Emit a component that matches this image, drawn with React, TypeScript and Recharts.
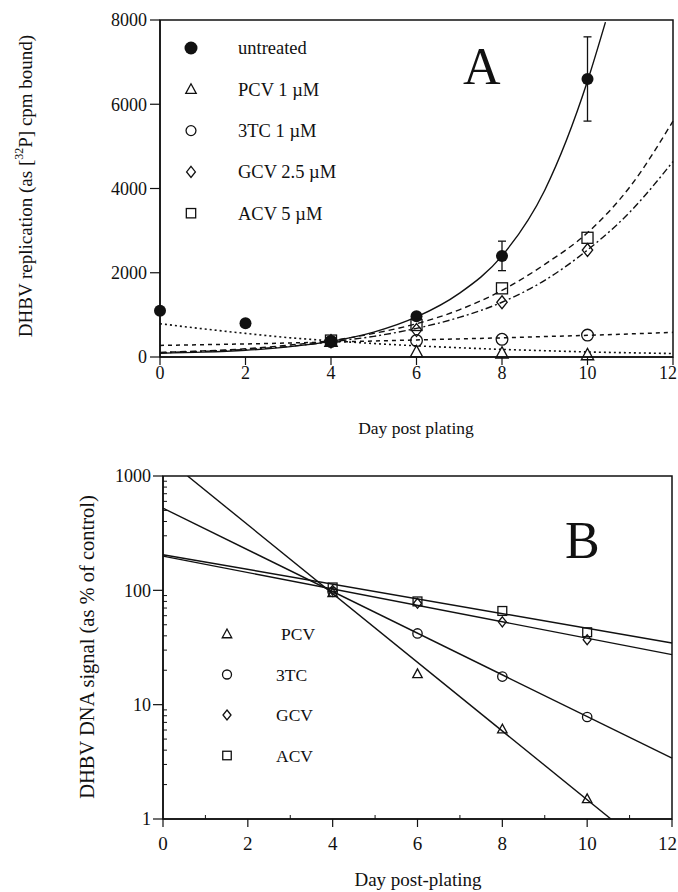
import React from 'react';
import { ComposedChart, Line, Scatter, XAxis, YAxis, ReferenceArea, ErrorBar } from 'recharts';

const SERIF = "'Liberation Serif', 'Times New Roman', serif";
const INK = '#111';

// ---- Panel A: DHBV replication, cpm bound ----
const dayTicksA = [0, 2, 4, 6, 8, 10, 12];
const cpmTicks = [0, 2000, 4000, 6000, 8000];

const untreatedDays = [0, 2, 4, 6, 8, 10];
const untreatedCpm = [1100, 800, 370, 970, 2400, 6600];
const untreatedSd = [0, 0, 0, 0, 350, 1000];

const treatedDays = [4, 6, 8, 10];
const pcvCpm = [370, 120, 90, 50];
const tcCpm = [370, 390, 420, 520];
const gcvCpm = [370, 640, 1300, 2540];
const acvCpm = [390, 760, 1630, 2830];

// fitted curves
const fitDays = [0, 1, 2, 3, 4, 5, 6, 7, 8, 9, 10, 11, 12];
const untreatedFitDays = [0, 1, 2, 3, 4, 5, 6, 7, 8, 9, 10, 10.42];
const untreatedFit = [90, 115, 160, 240, 370, 590, 950, 1510, 2400, 3960, 6550, 7950];
const pcvFit = [790, 670, 560, 460, 385, 320, 265, 220, 180, 150, 120, 100, 82];
const tcFit = [275, 292, 310, 332, 355, 380, 405, 430, 455, 485, 515, 548, 585];
const gcvFit = [100, 135, 180, 250, 360, 490, 680, 940, 1300, 1820, 2540, 3450, 4640];
const acvFit = [110, 145, 195, 280, 390, 560, 790, 1120, 1580, 2200, 2950, 4050, 5600];

// ---- Panel B: DNA signal, % of control (log) ----
const dayTicksB = [0, 1, 2, 3, 4, 5, 6, 7, 8, 9, 10, 11, 12];
const pctMajor = [1, 10, 100, 1000];
const pctTicks = [1, 2, 3, 4, 5, 6, 7, 8, 9, 10, 20, 30, 40, 50, 60, 70, 80, 90, 100, 200, 300, 400, 500, 600, 700, 800, 900, 1000];

const pcvPct = [95, 18.6, 6.1, 1.5];
const tcPct = [97, 42, 17.6, 7.8];
const gcvPct = [100, 77, 53, 37];
const acvPct = [106, 80, 66, 43];

const pcvLineDays = [0.58, 10.56];
const pcvLine = [1000, 1];
const lineEndDays = [0, 12];
const tcLine = [523, 3.4];
const gcvLine = [199, 27.4];
const acvLine = [205, 34.6];

const pts = (xs: number[], ys: number[], sd?: number[]) =>
  xs.map((x, i) => (sd ? { x, y: ys[i], sd: sd[i] } : { x, y: ys[i] }));

function Marker({ cx, cy, kind, s }: { cx: number; cy: number; kind: string; s: number }) {
  if (cx == null || cy == null) return null;
  const common = { fill: 'none', stroke: INK, strokeWidth: 1.3 };
  switch (kind) {
    case 'disc':
      return <circle cx={cx} cy={cy} r={s} fill={INK} />;
    case 'circle':
      return <circle cx={cx} cy={cy} r={s * 0.9} {...common} />;
    case 'triangle':
      return <polygon points={`${cx},${cy - s} ${cx - s * 0.95},${cy + s * 0.75} ${cx + s * 0.95},${cy + s * 0.75}`} {...common} />;
    case 'diamond':
      return <polygon points={`${cx},${cy - s} ${cx + s * 0.8},${cy} ${cx},${cy + s} ${cx - s * 0.8},${cy}`} {...common} />;
    case 'square':
      return <rect x={cx - s * 0.85} y={cy - s * 0.85} width={s * 1.7} height={s * 1.7} {...common} />;
    default:
      return null;
  }
}
const shapeOf = (kind: string, s: number) => (p: any) => <Marker cx={p.cx} cy={p.cy} kind={kind} s={s} />;

// ticks drawn by hand so tick length/direction can follow the original
const YTickA = (p: any) => (
  <g>
    <line x1={p.x - 10} x2={p.x} y1={p.y} y2={p.y} stroke={INK} strokeWidth={1.2} />
    <text x={p.x - 13} y={p.y} dy="0.35em" textAnchor="end" fontFamily={SERIF} fontSize={18} fill={INK}>
      {p.payload.value}
    </text>
  </g>
);
const XTickA = (p: any) => (
  <g>
    <line x1={p.x} x2={p.x} y1={p.y} y2={p.y + 8} stroke={INK} strokeWidth={1.2} />
    <text x={p.x} y={p.y + 22} textAnchor={p.payload.value === 12 ? 'end' : 'middle'} dx={p.payload.value === 12 ? 4 : 0} fontFamily={SERIF} fontSize={18} fill={INK}>
      {p.payload.value}
    </text>
  </g>
);
const YTickB = (p: any) => {
  const major = pctMajor.includes(p.payload.value);
  return (
    <g>
      {major ? (
        <line x1={p.x - 10} x2={p.x} y1={p.y} y2={p.y} stroke={INK} strokeWidth={1.2} />
      ) : (
        <line x1={p.x} x2={p.x + 4} y1={p.y} y2={p.y} stroke={INK} strokeWidth={1} />
      )}
      {major && (
        <text x={p.x - 12} y={p.y} dy="0.35em" textAnchor="end" fontFamily={SERIF} fontSize={18} fill={INK}>
          {p.payload.value}
        </text>
      )}
    </g>
  );
};
const XTickB = (p: any) => {
  const major = p.payload.value % 2 === 0;
  return (
    <g>
      {major ? (
        <line x1={p.x} x2={p.x} y1={p.y} y2={p.y + 8} stroke={INK} strokeWidth={1.2} />
      ) : (
        <line x1={p.x} x2={p.x} y1={p.y} y2={p.y - 4} stroke={INK} strokeWidth={1} />
      )}
      {major && (
        <text x={p.x} y={p.y + 31} textAnchor={p.payload.value === 12 ? 'end' : 'middle'} dx={p.payload.value === 12 ? 5 : 0} fontFamily={SERIF} fontSize={19} fill={INK}>
          {p.payload.value}
        </text>
      )}
    </g>
  );
};

const YTitleA = () => (
  <text x={25} y={186} transform="rotate(-90 25 186)" textAnchor="middle" dominantBaseline="central" fontFamily={SERIF} fontSize={19} fill={INK}>
    DHBV replication (as [<tspan dy={-6} fontSize={12}>32</tspan>
    <tspan dy={6}>P] cpm bound)</tspan>
  </text>
);
const XTitleA = () => (
  <text x={416} y={434} textAnchor="middle" fontFamily={SERIF} fontSize={17.5} fill={INK}>
    Day post plating
  </text>
);
const YTitleB = () => (
  <text x={87} y={197} transform="rotate(-90 87 197)" textAnchor="middle" dominantBaseline="central" fontFamily={SERIF} fontSize={20.5} fill={INK}>
    DHBV DNA signal (as % of control)
  </text>
);
const XTitleB = () => (
  <text x={418} y={436} textAnchor="middle" fontFamily={SERIF} fontSize={19} fill={INK}>
    Day post-plating
  </text>
);

const legendA = [
  { kind: 'disc', label: 'untreated' },
  { kind: 'triangle', label: 'PCV 1 µM' },
  { kind: 'circle', label: '3TC 1 µM' },
  { kind: 'diamond', label: 'GCV 2.5 µM' },
  { kind: 'square', label: 'ACV 5 µM' },
];
const legendB = [
  { kind: 'triangle', label: 'PCV' },
  { kind: 'circle', label: '3TC' },
  { kind: 'diamond', label: 'GCV' },
  { kind: 'square', label: 'ACV' },
];

function PanelA() {
  return (
    <ComposedChart width={678} height={440} margin={{ top: 20, right: 5, bottom: 0, left: 0 }}>
      <XAxis
        type="number"
        dataKey="x"
        domain={[0, 12]}
        ticks={dayTicksA}
        interval={0}
        tickSize={0}
        tickMargin={0}
        tick={XTickA}
        height={83}
        axisLine={{ stroke: INK, strokeWidth: 1.5 }}
        label={<XTitleA />}
      />
      <YAxis
        type="number"
        dataKey="y"
        domain={[0, 8000]}
        ticks={cpmTicks}
        interval={0}
        tickSize={0}
        tickMargin={0}
        tick={YTickA}
        width={160}
        axisLine={{ stroke: INK, strokeWidth: 1.5 }}
        label={<YTitleA />}
      />
      <ReferenceArea x1={0} x2={12} y1={0} y2={8000} fill="none" stroke={INK} strokeWidth={1.5} />
      <Line data={pts(untreatedFitDays, untreatedFit)} dataKey="y" type="monotone" stroke={INK} strokeWidth={1.4} dot={false} isAnimationActive={false} />
      <Line data={pts(fitDays, acvFit)} dataKey="y" type="monotone" stroke={INK} strokeWidth={1.4} strokeDasharray="6 4" dot={false} isAnimationActive={false} />
      <Line data={pts(fitDays, gcvFit)} dataKey="y" type="monotone" stroke={INK} strokeWidth={1.4} strokeDasharray="7 3 2 3" dot={false} isAnimationActive={false} />
      <Line data={pts(fitDays, tcFit)} dataKey="y" type="monotone" stroke={INK} strokeWidth={1.5} strokeDasharray="4 4" dot={false} isAnimationActive={false} />
      <Line data={pts(fitDays, pcvFit)} dataKey="y" type="monotone" stroke={INK} strokeWidth={1.6} strokeDasharray="2 3" dot={false} isAnimationActive={false} />
      <Scatter data={pts(untreatedDays, untreatedCpm, untreatedSd)} shape={shapeOf('disc', 6)} isAnimationActive={false}>
        <ErrorBar dataKey="sd" direction="y" width={4} stroke={INK} strokeWidth={1.3} />
      </Scatter>
      <Scatter data={pts(treatedDays, pcvCpm)} shape={shapeOf('triangle', 6.5)} isAnimationActive={false} />
      <Scatter data={pts(treatedDays, tcCpm)} shape={shapeOf('circle', 6.5)} isAnimationActive={false} />
      <Scatter data={pts(treatedDays, gcvCpm)} shape={shapeOf('diamond', 6.5)} isAnimationActive={false} />
      <Scatter data={pts(treatedDays, acvCpm)} shape={shapeOf('square', 6.5)} isAnimationActive={false} />
    </ComposedChart>
  );
}

function PanelB() {
  return (
    <ComposedChart width={678} height={442} margin={{ top: 26, right: 6, bottom: 0, left: 0 }}>
      <XAxis
        type="number"
        dataKey="x"
        domain={[0, 12]}
        ticks={dayTicksB}
        interval={0}
        tickSize={0}
        tickMargin={0}
        tick={XTickB}
        height={73}
        axisLine={{ stroke: INK, strokeWidth: 1.5 }}
        label={<XTitleB />}
      />
      <YAxis
        type="number"
        dataKey="y"
        scale="log"
        domain={[1, 1000]}
        allowDataOverflow
        ticks={pctTicks}
        interval={0}
        tickSize={0}
        tickMargin={0}
        tick={YTickB}
        width={163}
        axisLine={{ stroke: INK, strokeWidth: 1.5 }}
        label={<YTitleB />}
      />
      <ReferenceArea x1={0} x2={12} y1={1} y2={1000} fill="none" stroke={INK} strokeWidth={1.5} />
      <Line data={pts(pcvLineDays, pcvLine)} dataKey="y" type="linear" stroke={INK} strokeWidth={1.4} dot={false} isAnimationActive={false} />
      <Line data={pts(lineEndDays, tcLine)} dataKey="y" type="linear" stroke={INK} strokeWidth={1.4} dot={false} isAnimationActive={false} />
      <Line data={pts(lineEndDays, gcvLine)} dataKey="y" type="linear" stroke={INK} strokeWidth={1.4} dot={false} isAnimationActive={false} />
      <Line data={pts(lineEndDays, acvLine)} dataKey="y" type="linear" stroke={INK} strokeWidth={1.4} dot={false} isAnimationActive={false} />
      <Scatter data={pts(treatedDays, pcvPct)} shape={shapeOf('triangle', 5)} isAnimationActive={false} />
      <Scatter data={pts(treatedDays, tcPct)} shape={shapeOf('circle', 5.2)} isAnimationActive={false} />
      <Scatter data={pts(treatedDays, gcvPct)} shape={shapeOf('diamond', 5)} isAnimationActive={false} />
      <Scatter data={pts(treatedDays, acvPct)} shape={shapeOf('square', 5.2)} isAnimationActive={false} />
    </ComposedChart>
  );
}

export default function App() {
  return (
    <div style={{ position: 'absolute', left: 0, top: 0, width: 678, height: 892, background: '#fff', overflow: 'hidden' }}>
      <div style={{ position: 'absolute', left: 0, top: 0 }}>
        <PanelA />
      </div>
      <div style={{ position: 'absolute', left: 0, top: 450 }}>
        <PanelB />
      </div>
      <svg width={678} height={892} style={{ position: 'absolute', left: 0, top: 0, pointerEvents: 'none' }}>
        {legendA.map((d, i) => (
          <g key={d.label}>
            <Marker cx={191} cy={48 + i * 41.3} kind={d.kind} s={d.kind === 'disc' ? 6.5 : 5.5} />
            <text x={238} y={48 + i * 41.3} dy="0.35em" fontFamily={SERIF} fontSize={18.5} fill={INK}>
              {d.label}
            </text>
          </g>
        ))}
        <text x={463} y={84} fontFamily={SERIF} fontSize={52} fill={INK}>A</text>
        {legendB.map((d, i) => (
          <g key={d.label}>
            <Marker cx={227} cy={634 + i * 40.5} kind={d.kind} s={5} />
            <text x={i === 0 ? 281 : 276} y={634 + i * 40.5} dy="0.35em" fontFamily={SERIF} fontSize={17.5} fill={INK}>
              {d.label}
            </text>
          </g>
        ))}
        <text x={565} y={558} fontFamily={SERIF} fontSize={52} fill={INK}>B</text>
      </svg>
    </div>
  );
}
